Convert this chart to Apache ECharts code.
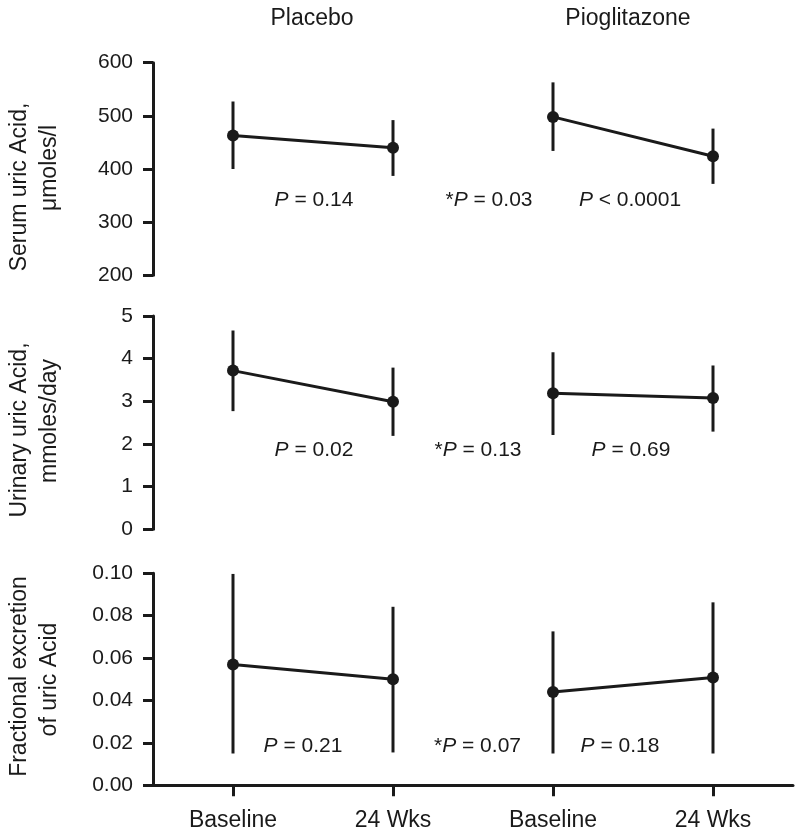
<!DOCTYPE html>
<html>
<head>
<meta charset="utf-8">
<script src="https://cdn.jsdelivr.net/npm/echarts@6/dist/echarts.min.js"></script>
<style>
html,body{margin:0;padding:0;background:#fff;}
#c{width:800px;height:838px;}
</style>
</head>
<body>
<div id="c"></div>
<script>
// ---- data ----
var categories = ['Baseline', '24 Wks', 'Baseline', '24 Wks'];
var groupTitles = ['Placebo', 'Pioglitazone'];

var serumMean = [463, 440, 498, 424];
var serumLow  = [400, 387, 434, 372];
var serumHigh = [527, 492, 563, 476];

var urinaryMean = [3.72, 2.99, 3.19, 3.08];
var urinaryLow  = [2.77, 2.19, 2.21, 2.29];
var urinaryHigh = [4.66, 3.79, 4.15, 3.84];

var fracMean = [0.057, 0.050, 0.044, 0.0508];
var fracLow  = [0.015, 0.0155, 0.015, 0.015];
var fracHigh = [0.0997, 0.0842, 0.0726, 0.0863];

var serumTicks = [200, 600, 100];
var urinaryTicks = [0, 5, 1];
var fracTicks = [0, 0.1, 0.02];

var yLabels = [
  ['Serum uric Acid,', 'μmoles/l'],
  ['Urinary uric Acid,', 'mmoles/day'],
  ['Fractional excretion', 'of uric Acid']
];
var pTexts = [
  ['P = 0.14', '*P = 0.03', 'P < 0.0001'],
  ['P = 0.02', '*P = 0.13', 'P = 0.69'],
  ['P = 0.21', '*P = 0.07', 'P = 0.18']
];

// ---- chart ----
var INK = '#1a1a1a';
var FONT = '"Liberation Sans", Arial, Helvetica, sans-serif';
var chart = echarts.init(document.getElementById('c'), null, {renderer: 'canvas'});

var panels = [
  {mean: serumMean, low: serumLow, high: serumHigh, ticks: serumTicks, dec: 0, top: 62.7, height: 212.6},
  {mean: urinaryMean, low: urinaryLow, high: urinaryHigh, ticks: urinaryTicks, dec: 0, top: 316, height: 213.3},
  {mean: fracMean, low: fracLow, high: fracHigh, ticks: fracTicks, dec: 2, top: 573.3, height: 212}
];

var grids = [], xAxes = [], yAxes = [], series = [];
panels.forEach(function (p, i) {
  grids.push({left: 153, top: p.top, width: 640, height: p.height});
  var last = (i === panels.length - 1);
  xAxes.push({
    type: 'category', gridIndex: i, data: categories, boundaryGap: true,
    show: last,
    axisLine: {show: last, lineStyle: {color: INK, width: 3}},
    axisTick: {show: last, alignWithLabel: true, length: 11, lineStyle: {color: INK, width: 3}},
    axisLabel: {show: last, color: INK, fontSize: 23, fontFamily: FONT, margin: 24},
    splitLine: {show: false}
  });
  yAxes.push({
    type: 'value', gridIndex: i, min: p.ticks[0], max: p.ticks[1], interval: p.ticks[2],
    axisLine: {show: true, lineStyle: {color: INK, width: 3}},
    axisTick: {show: true, length: 10, lineStyle: {color: INK, width: 3}},
    axisLabel: {color: INK, fontSize: 21, fontFamily: FONT, margin: 20,
      formatter: (function (d) { return function (v) { return Number(v).toFixed(d); }; })(p.dec)},
    splitLine: {show: false}
  });
  // error bars
  var errData = p.mean.map(function (m, k) { return [k, p.low[k], p.high[k]]; });
  series.push({
    type: 'custom', xAxisIndex: i, yAxisIndex: i, data: errData,
    encode: {x: 0, y: [1, 2]}, silent: true, z: 2,
    renderItem: function (params, api) {
      var a = api.coord([api.value(0), api.value(1)]);
      var b = api.coord([api.value(0), api.value(2)]);
      return {type: 'line', shape: {x1: a[0], y1: a[1], x2: b[0], y2: b[1]},
        style: {stroke: INK, lineWidth: 3}};
    }
  });
  // two groups: Placebo (0,1), Pioglitazone (2,3)
  [[0, 1], [2, 3]].forEach(function (idx) {
    var d = p.mean.map(function (m, k) { return idx.indexOf(k) >= 0 ? m : null; });
    series.push({
      type: 'line', xAxisIndex: i, yAxisIndex: i, data: d, connectNulls: false,
      symbol: 'circle', symbolSize: 12, z: 3, silent: true,
      lineStyle: {color: INK, width: 3}, itemStyle: {color: INK}
    });
  });
});

// annotations
var graphics = [];
function txt(x, y, s, size, rot) {
  var g = {type: 'text', x: x, y: y, silent: true,
    style: {text: s, fill: INK, fontSize: size, fontFamily: FONT, align: 'center', verticalAlign: 'middle'}};
  if (rot) g.rotation = rot;
  return g;
}
graphics.push(txt(312, 19, groupTitles[0], 23));
graphics.push(txt(628, 19, groupTitles[1], 23));

var yLabelPos = [[187, 168], [430, 421], [676.5, 679.5]];
yLabels.forEach(function (lines, i) {
  graphics.push(txt(20, yLabelPos[i][0], lines[0], 23, Math.PI / 2));
  graphics.push(txt(50, yLabelPos[i][1], lines[1], 23, Math.PI / 2));
});

var pPos = [
  [[314, 200.5], [489, 200.5], [630, 200.5]],
  [[314, 450.5], [478, 450.5], [631, 450.5]],
  [[303, 746], [477.5, 746], [620, 746]]
];
pTexts.forEach(function (row, i) {
  row.forEach(function (s, j) {
    var rich = s.replace('P', '{i|P}');
    graphics.push({type: 'text', x: pPos[i][j][0], y: pPos[i][j][1], silent: true,
      style: {text: rich, fill: INK, fontSize: 21, fontFamily: FONT, align: 'center', verticalAlign: 'middle',
        rich: {i: {fontStyle: 'italic', fontSize: 21, fontFamily: FONT, fill: INK}}}});
  });
});

chart.setOption({
  animation: false,
  backgroundColor: '#fff',
  grid: grids, xAxis: xAxes, yAxis: yAxes, series: series, graphic: graphics
});
</script>
</body>
</html>
